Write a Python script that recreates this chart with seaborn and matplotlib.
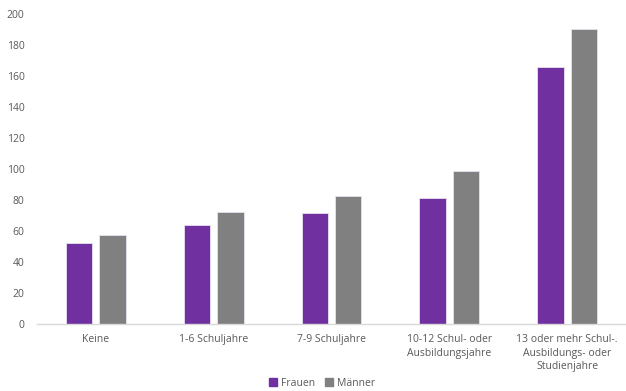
import matplotlib
matplotlib.use("Agg")
import matplotlib.pyplot as plt
import seaborn as sns
import pandas as pd

categories = [
    "Keine",
    "1-6 Schuljahre",
    "7-9 Schuljahre",
    "10-12 Schul- oder\nAusbildungsjahre",
    "13 oder mehr Schul-.\nAusbildungs- oder\nStudienjahre",
]
frauen = [52.1, 63.7, 71.6, 81.1, 165.5]
maenner = [57.2, 72.5, 82.6, 98.9, 190.3]
series = ["Frauen", "Männer"]
colors = ["#7030A0", "#808080"]
yticks = [0, 20, 40, 60, 80, 100, 120, 140, 160, 180, 200]

df = pd.DataFrame({
    "Kategorie": categories * 2,
    "Wert": frauen + maenner,
    "Geschlecht": [series[0]] * len(categories) + [series[1]] * len(categories),
})

sns.set_theme(style="white")
plt.rcParams["font.family"] = ["Open Sans", "DejaVu Sans"]

fig = plt.figure(figsize=(6.26, 3.91), dpi=100)
ax = fig.add_axes([37 / 626, (391 - 324) / 391, (626 - 37) / 626, (324 - 14) / 391])

sns.barplot(
    data=df, x="Kategorie", y="Wert", hue="Geschlecht",
    palette=colors, saturation=1, width=0.566, gap=0.21, ax=ax,
    edgecolor="#e8e0f0", linewidth=0.6, legend=False,
)

ax.set_xlim(-0.5, len(categories) - 0.5)
ax.set_ylim(0, 200)
ax.set_yticks(yticks)
ax.set_xlabel("")
ax.set_ylabel("")
for side in ["top", "right", "left"]:
    ax.spines[side].set_visible(False)
ax.spines["bottom"].set_color("#d9d9d9")
ax.spines["bottom"].set_linewidth(1)
ax.tick_params(axis="y", length=0, pad=9, labelsize=7.5, labelcolor="#595959")
ax.tick_params(axis="x", length=0, pad=7, labelsize=7.5, labelcolor="#595959")
for lbl in ax.get_xticklabels():
    lbl.set_linespacing(1.35)

handles = [plt.Rectangle((0, 0), 1, 1, color=c) for c in colors]
fig.legend(
    handles, series, loc="center", bbox_to_anchor=(322 / 626, 1 - 383 / 391),
    ncol=2, frameon=False, fontsize=7.5, labelcolor="#595959",
    handlelength=0.7, handleheight=0.7, handletextpad=0.4, columnspacing=1.0,
    borderpad=0.1,
)

fig.savefig("out.png", dpi=100)
